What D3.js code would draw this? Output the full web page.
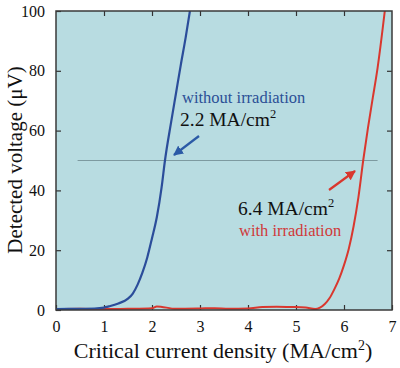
<!DOCTYPE html>
<html><head><meta charset="utf-8">
<script src="https://cdn.jsdelivr.net/npm/d3@7"></script>
<style>body{margin:0;background:#fff}svg text{font-family:"Liberation Serif","Times New Roman",Tinos,"DejaVu Serif",serif !important}</style>
</head><body><svg id="c" width="400" height="368"></svg>
<script>
const xTicks = [0,1,2,3,4,5,6,7];
const yTicks = [0,20,40,60,80,100];
const blueX = [0,0.4,0.8,1.0,1.1,1.3,1.5,1.6,1.7,1.8,1.9,2.0,2.1,2.2,2.27,2.4,2.5,2.6,2.7,2.79];
const blueY = [0.3,0.4,0.5,0.8,1.2,2.2,3.8,5.5,8.5,12.5,17.5,24,31,41,50,63,72.5,82,91,100];
const redX = [0,0.5,1.0,1.5,2.0,2.1,2.5,3.0,3.3,3.6,4.0,4.3,4.6,4.9,5.2,5.4,5.5,5.6,5.7,5.8,5.9,6.0,6.1,6.2,6.3,6.4,6.5,6.6,6.7,6.85];
const redY = [0.3,0.4,0.3,0.4,0.6,1.2,0.4,0.5,0.6,0.4,0.5,1.0,1.1,1.0,0.8,0.3,0.8,2,4,7,10.5,15,20.5,28,37.7,50,61,71,81,100];
const refLevel = 50, refFrom = 0.45, refTo = 6.7;

const svg = d3.select("#c");
const L=56,R=392,T=11,B=310;
const x = d3.scaleLinear().domain([0,7]).range([L,R]);
const y = d3.scaleLinear().domain([0,100]).range([B,T]);

svg.append("rect").attr("x",L).attr("y",T).attr("width",R-L).attr("height",B-T).attr("fill","#b8dce1");

const tk = 5;
const fmt = d3.format("d");
const axB = d3.axisBottom(x).tickValues(xTicks).tickFormat(fmt).tickSizeInner(-tk).tickSizeOuter(0).tickPadding(11);
const axT = d3.axisTop(x).tickValues(xTicks.slice(1,-1)).tickSizeInner(-tk).tickSizeOuter(0).tickFormat("");
const axL = d3.axisLeft(y).tickValues(yTicks).tickFormat(fmt).tickSizeInner(-tk).tickSizeOuter(0).tickPadding(11);
const axR = d3.axisRight(y).tickValues(yTicks.slice(1,-1)).tickSizeInner(-tk).tickSizeOuter(0).tickFormat("");
function style(g){g.attr("font-family",null);g.select(".domain").remove();g.selectAll("line").attr("stroke","#333").attr("stroke-width",1.2);g.selectAll("text").attr("font-size",16).attr("fill","#111");}
svg.append("g").attr("transform",`translate(0,${B})`).call(axB).call(style);
svg.append("g").attr("transform",`translate(0,${T})`).call(axT).call(style);
svg.append("g").attr("transform",`translate(${L},0)`).call(axL).call(style);
svg.append("g").attr("transform",`translate(${R},0)`).call(axR).call(style);

svg.append("line").attr("x1",x(refFrom)).attr("x2",x(refTo)).attr("y1",y(refLevel)).attr("y2",y(refLevel)).attr("stroke","#7d9aa0").attr("stroke-width",1);

const line = d3.line().x(d=>x(d[0])).y(d=>y(d[1])).curve(d3.curveMonotoneX);
svg.append("clipPath").attr("id","cp").append("rect").attr("x",L).attr("y",T).attr("width",R-L).attr("height",B-T);
svg.append("path").datum(redX.map((v,i)=>[v,redY[i]])).attr("d",line).attr("fill","none").attr("stroke","#d9372e").attr("stroke-width",2).attr("clip-path","url(#cp)");
svg.append("path").datum(blueX.map((v,i)=>[v,blueY[i]])).attr("d",line).attr("fill","none").attr("stroke","#2b4d9a").attr("stroke-width",2.2).attr("clip-path","url(#cp)");

svg.append("rect").attr("x",L).attr("y",T).attr("width",R-L).attr("height",B-T).attr("fill","none").attr("stroke","#3a3a3a").attr("stroke-width",1.5);

const defs = svg.append("defs");
function marker(id,color){defs.append("marker").attr("id",id).attr("viewBox","0 0 10 10").attr("refX",9).attr("refY",5).attr("markerWidth",4.5).attr("markerHeight",4.5).attr("orient","auto").append("path").attr("d","M0,0L10,5L0,10z").attr("fill",color);}
marker("ab","#2b5aa6"); marker("ar","#d9372e");
svg.append("line").attr("x1",199).attr("y1",136).attr("x2",174).attr("y2",155).attr("stroke","#2b5aa6").attr("stroke-width",2.2).attr("marker-end","url(#ab)");
svg.append("line").attr("x1",329).attr("y1",190).attr("x2",355).attr("y2",171).attr("stroke","#d9372e").attr("stroke-width",2.2).attr("marker-end","url(#ar)");

svg.append("text").attr("x",182).attr("y",103).attr("font-size",16.5).attr("fill","#2b4f96").text("without irradiation");
svg.append("text").attr("x",180).attr("y",126).attr("font-size",19.5).attr("fill","#111").html('2.2 MA/cm<tspan dy="-8" font-size="12.5">2</tspan>');
svg.append("text").attr("x",238).attr("y",215).attr("font-size",19.5).attr("fill","#111").html('6.4 MA/cm<tspan dy="-8" font-size="12.5">2</tspan>');
svg.append("text").attr("x",239).attr("y",236).attr("font-size",16.5).attr("fill","#d0393a").text("with irradiation");

svg.append("text").attr("x",223).attr("y",358).attr("text-anchor","middle").attr("font-size",22).attr("fill","#111").html('Critical current density (MA/cm<tspan dy="-8" font-size="14">2</tspan><tspan dy="8">)</tspan>');
svg.append("text").attr("transform","translate(22,160) rotate(-90)").attr("text-anchor","middle").attr("font-size",21).attr("fill","#111").text("Detected voltage (μV)");
</script></body></html>
